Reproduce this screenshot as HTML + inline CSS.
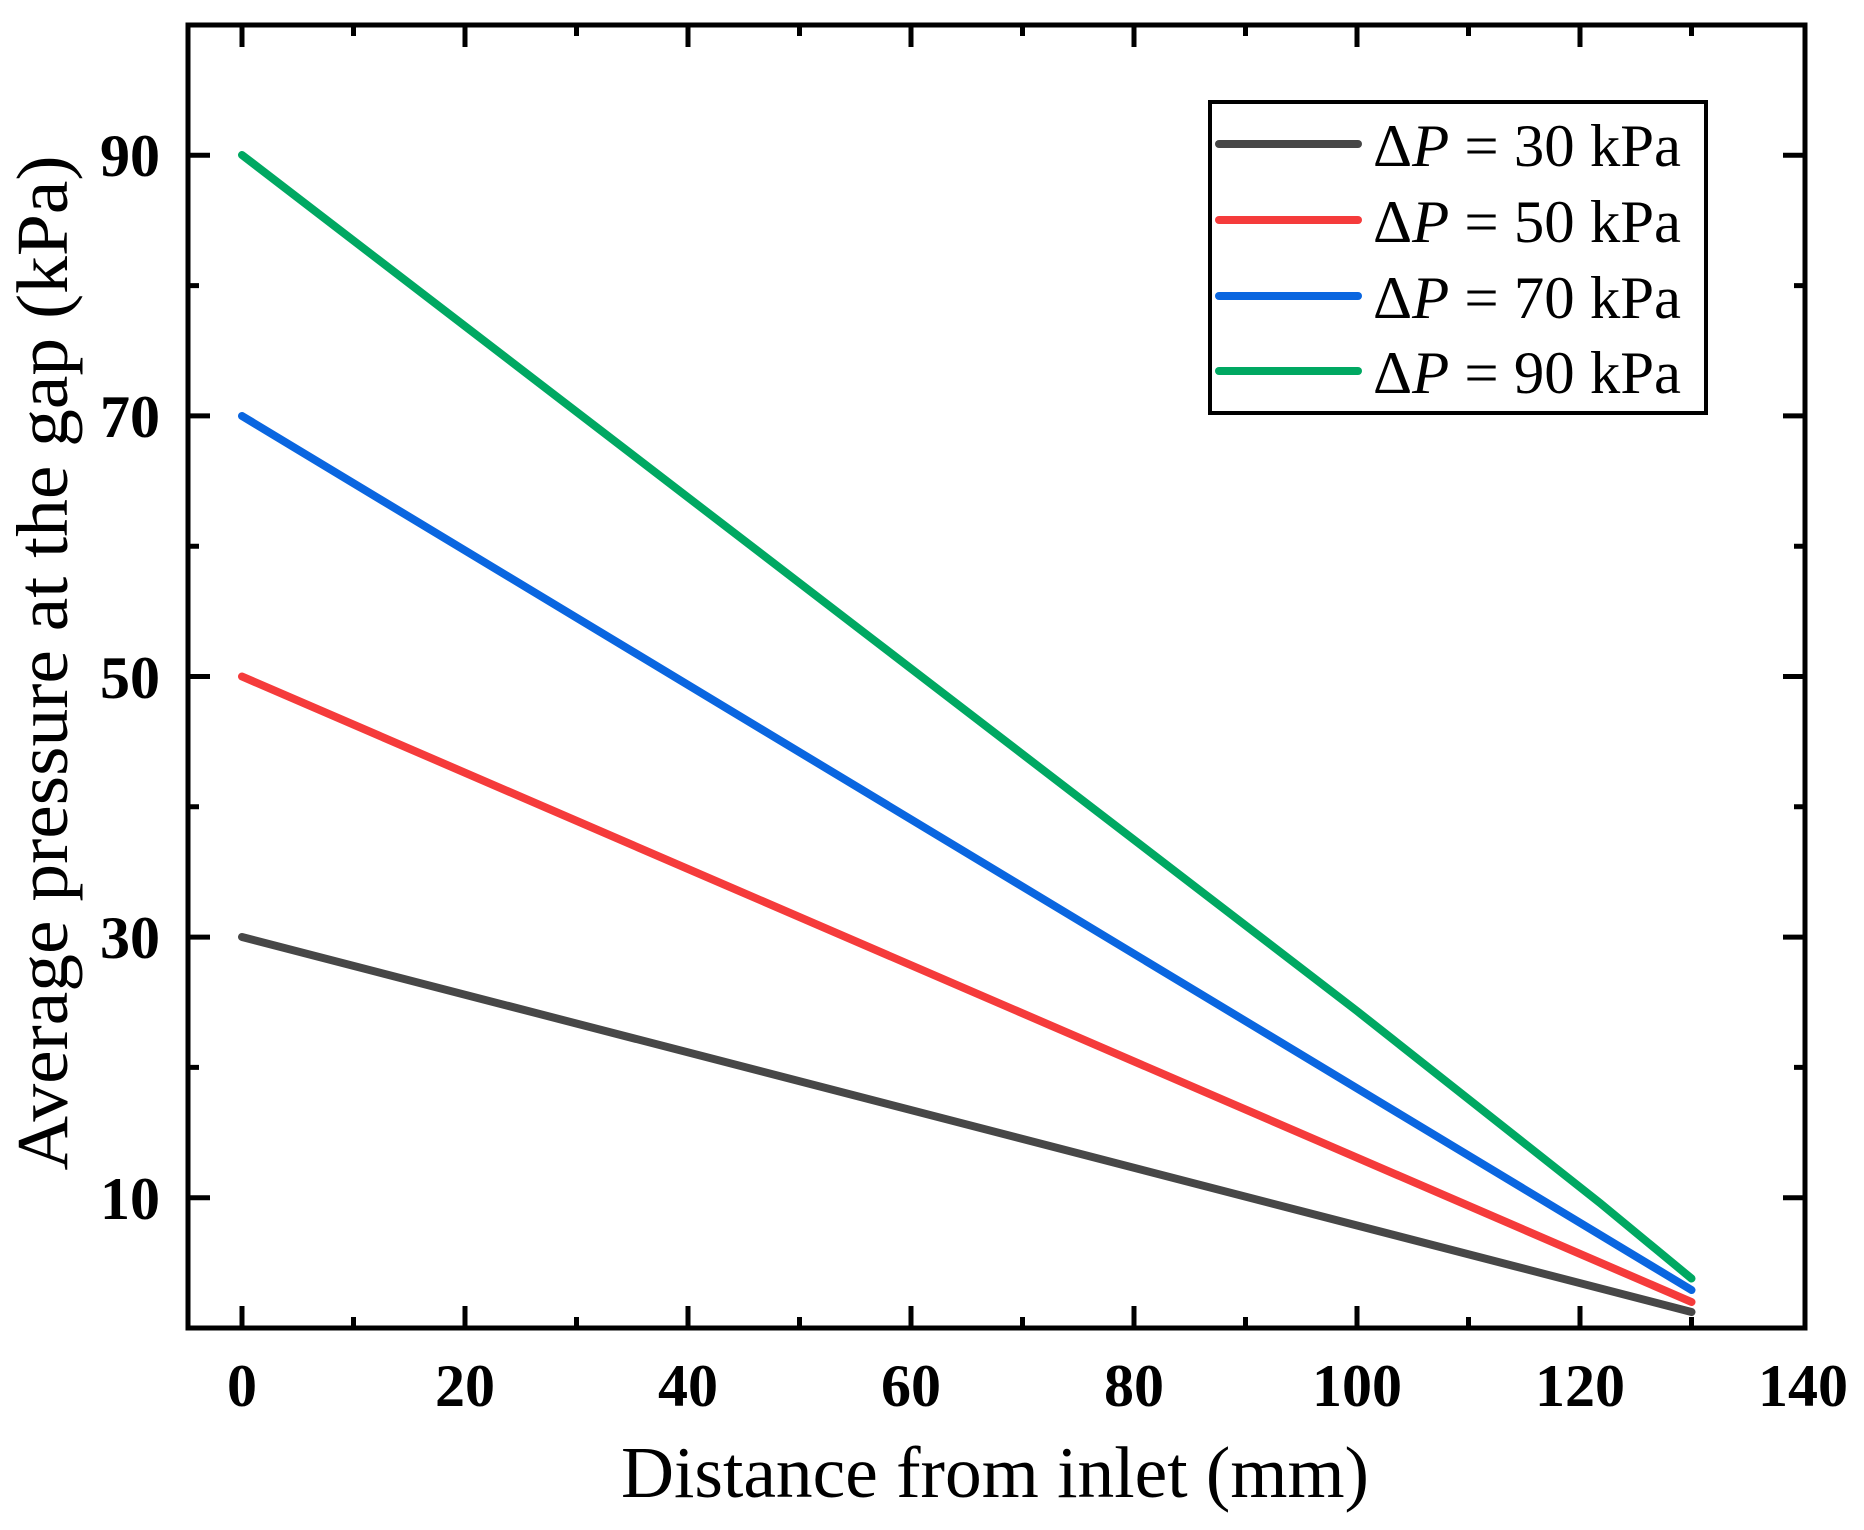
<!DOCTYPE html>
<html><head><meta charset="utf-8"><style>html,body{margin:0;padding:0;background:#fff}svg{display:block}</style></head>
<body>
<svg width="1864" height="1530" viewBox="0 0 1864 1530" xmlns="http://www.w3.org/2000/svg" font-family="'Liberation Serif', serif">
<rect width="1864" height="1530" fill="#fff"/>
<g stroke-linecap="round" stroke-linejoin="round" fill="none" stroke-width="8">
<polyline stroke="#474747" points="242,937 1691.5,1312"/>
<polyline stroke="#f53b3b" points="242,676.5 1691.5,1302"/>
<polyline stroke="#0a66e0" points="242,416 1691.5,1290"/>
<polyline stroke="#00a862" points="242,155 1357,1011 1600,1203 1691.5,1278.5"/>
</g>
<g stroke="#000" stroke-width="5">
<path d="M242,1328v-22M465,1328v-22M688,1328v-22M911,1328v-22M1134,1328v-22M1357,1328v-22M1580,1328v-22
M353.5,1328v-11M576.5,1328v-11M799.5,1328v-11M1022.5,1328v-11M1245.5,1328v-11M1468.5,1328v-11M1691.5,1328v-11
M242,25v22M465,25v22M688,25v22M911,25v22M1134,25v22M1357,25v22M1580,25v22
M353.5,25v11M576.5,25v11M799.5,25v11M1022.5,25v11M1245.5,25v11M1468.5,25v11M1691.5,25v11"/>
<path d="M188,1197.7h22M188,937.1h22M188,676.5h22M188,415.9h22M188,155.3h22
M188,1067.4h11M188,806.8h11M188,546.2h11M188,285.6h11
M1805,1197.7h-22M1805,937.1h-22M1805,676.5h-22M1805,415.9h-22M1805,155.3h-22
M1805,1067.4h-11M1805,806.8h-11M1805,546.2h-11M1805,285.6h-11"/>
</g>
<rect x="188" y="25" width="1617" height="1303" fill="none" stroke="#000" stroke-width="5"/>
<g font-weight="bold" font-size="60" text-anchor="middle">
<text x="242" y="1406">0</text><text x="465" y="1406">20</text><text x="688" y="1406">40</text>
<text x="911" y="1406">60</text><text x="1134" y="1406">80</text><text x="1357" y="1406">100</text>
<text x="1580" y="1406">120</text><text x="1803" y="1406">140</text>
</g>
<g font-weight="bold" font-size="60" text-anchor="end">
<text x="160" y="1219">10</text><text x="160" y="958">30</text><text x="160" y="698">50</text>
<text x="160" y="437">70</text><text x="160" y="176">90</text>
</g>
<text x="995" y="1497" font-size="73" text-anchor="middle" textLength="748" lengthAdjust="spacingAndGlyphs">Distance from inlet (mm)</text>
<text transform="translate(67,663) rotate(-90)" font-size="73" text-anchor="middle" textLength="1015" lengthAdjust="spacingAndGlyphs">Average pressure at the gap (kPa)</text>
<rect x="1210" y="102" width="496" height="311" fill="#fff" stroke="#000" stroke-width="4"/>
<g stroke-width="8" stroke-linecap="round">
<line x1="1219" y1="144" x2="1358" y2="144" stroke="#474747"/>
<line x1="1219" y1="220" x2="1358" y2="220" stroke="#f53b3b"/>
<line x1="1219" y1="296" x2="1358" y2="296" stroke="#0a66e0"/>
<line x1="1219" y1="371" x2="1358" y2="371" stroke="#00a862"/>
</g>
<g font-size="60">
<text x="1373" y="166" textLength="308" lengthAdjust="spacingAndGlyphs">Δ<tspan font-style="italic">P</tspan> = 30 kPa</text>
<text x="1373" y="242" textLength="308" lengthAdjust="spacingAndGlyphs">Δ<tspan font-style="italic">P</tspan> = 50 kPa</text>
<text x="1373" y="318" textLength="308" lengthAdjust="spacingAndGlyphs">Δ<tspan font-style="italic">P</tspan> = 70 kPa</text>
<text x="1373" y="393" textLength="308" lengthAdjust="spacingAndGlyphs">Δ<tspan font-style="italic">P</tspan> = 90 kPa</text>
</g>
</svg>
</body></html>
